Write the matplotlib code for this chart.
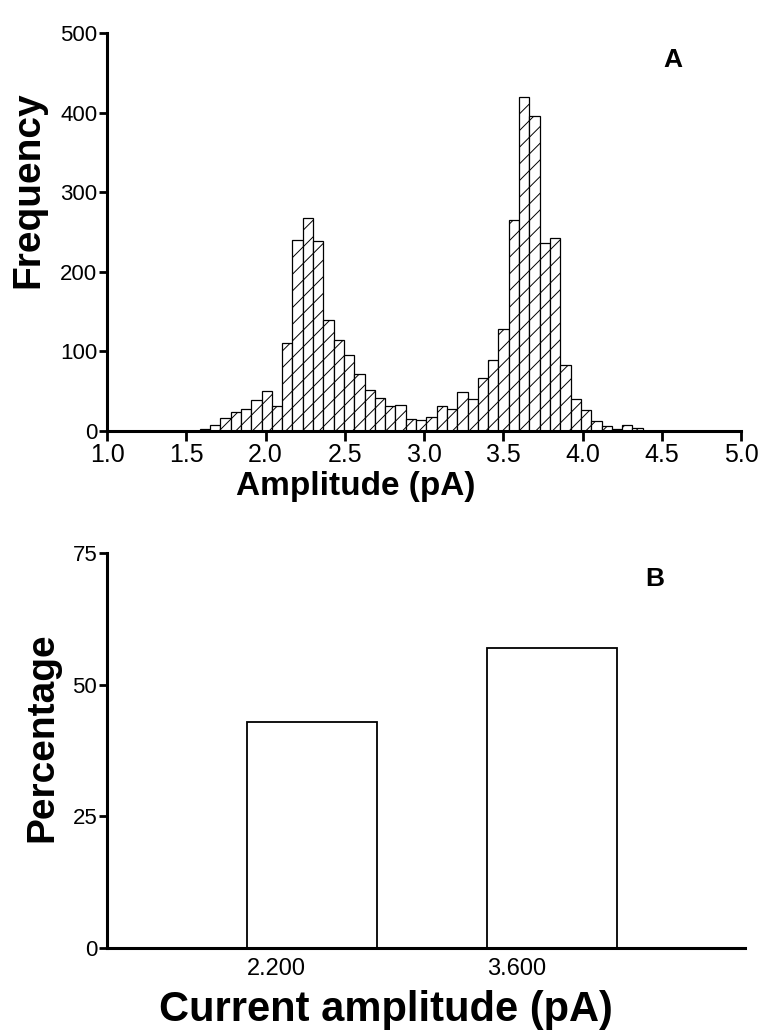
import matplotlib
matplotlib.use('Agg')
import matplotlib.pyplot as plt

plt.rcParams['font.family'] = ['Liberation Sans', 'DejaVu Sans']
plt.rcParams['hatch.linewidth'] = 0.7

# panel A: amplitude histogram (bin centres in pA, counts)
amp_bins = [1.6175, 1.6825, 1.7475, 1.8125, 1.8775, 1.9425, 2.0075, 2.0725,
            2.1375, 2.2025, 2.2675, 2.3325, 2.3975, 2.4625, 2.5275, 2.5925,
            2.6575, 2.7225, 2.7875, 2.8525, 2.9175, 2.9825, 3.0475, 3.1125,
            3.1775, 3.2425, 3.3075, 3.3725, 3.4375, 3.5025, 3.5675, 3.6325,
            3.6975, 3.7625, 3.8275, 3.8925, 3.9575, 4.0225, 4.0875, 4.1525,
            4.2175, 4.2825, 4.3475]
amp_counts = [3, 8, 16, 24, 28, 39, 50, 32,
              111, 240, 268, 239, 139, 114, 96, 71,
              51, 42, 32, 33, 15, 14, 17, 32,
              28, 49, 40, 67, 89, 128, 265, 420,
              396, 236, 243, 83, 40, 27, 12, 6,
              3, 7, 4]
bin_width = 0.065
amp_ticks = [1.0, 1.5, 2.0, 2.5, 3.0, 3.5, 4.0, 4.5, 5.0]
freq_ticks = [0, 100, 200, 300, 400, 500]

# panel B: percentage at each current level
levels = ['2.200', '3.600']
level_pos = [1, 2]
percent = [43, 57]
pct_ticks = [0, 25, 50, 75]
bar_w = 0.54

W, H = 765, 1035
fig = plt.figure(figsize=(W / 100, H / 100), dpi=100)
ax1 = fig.add_axes([107 / W, 1 - 431 / H, 634 / W, 398 / H])
ax2 = fig.add_axes([107 / W, 1 - 948 / H, 638 / W, 395 / H])

# --- A ---
ax1.bar(amp_bins, amp_counts, width=bin_width, color='white', edgecolor='black',
        linewidth=0.9, hatch='//')
ax1.set_xlim(1.0, 5.0)
ax1.set_ylim(0, 500)
ax1.set_xticks(amp_ticks)
ax1.set_xticklabels([f'{t:.1f}' for t in amp_ticks])
ax1.set_yticks(freq_ticks)

# --- B ---
ax2.bar(level_pos, percent, width=bar_w, color='white', edgecolor='black', linewidth=1.3)
ax2.set_xlim(0.15, 2.8)
ax2.set_ylim(0, 75)
ax2.set_xticks([p - bar_w / 2 for p in level_pos])
ax2.set_xticklabels(levels, ha='left')
ax2.set_yticks(pct_ticks)

for ax in (ax1, ax2):
    ax.spines['top'].set_visible(False)
    ax.spines['right'].set_visible(False)
    ax.spines['left'].set_linewidth(2.2)
    ax.spines['bottom'].set_linewidth(2.2)
    ax.tick_params(axis='y', direction='out', length=6, width=2, labelsize=16, pad=1)

ax1.tick_params(axis='x', direction='out', length=7, width=2, labelsize=18, pad=2)
ax2.tick_params(axis='x', length=0, labelsize=17, pad=7)

# axis titles and panel letters
bold = dict(fontweight='bold', ha='center', va='center')
fig.text(28 / W, 1 - 190 / H, 'Frequency', rotation=90, fontsize=28, **bold)
fig.text(356 / W, 1 - 486 / H, 'Amplitude (pA)', fontsize=24, **bold)
fig.text(673 / W, 1 - 60 / H, 'A', fontsize=19, **bold)
fig.text(42 / W, 1 - 737 / H, 'Percentage', rotation=90, fontsize=28, **bold)
fig.text(386 / W, 1 - 1010 / H, 'Current amplitude (pA)', fontsize=30, **bold)
fig.text(655 / W, 1 - 579 / H, 'B', fontsize=19, **bold)

fig.savefig('out.png', dpi=100)
